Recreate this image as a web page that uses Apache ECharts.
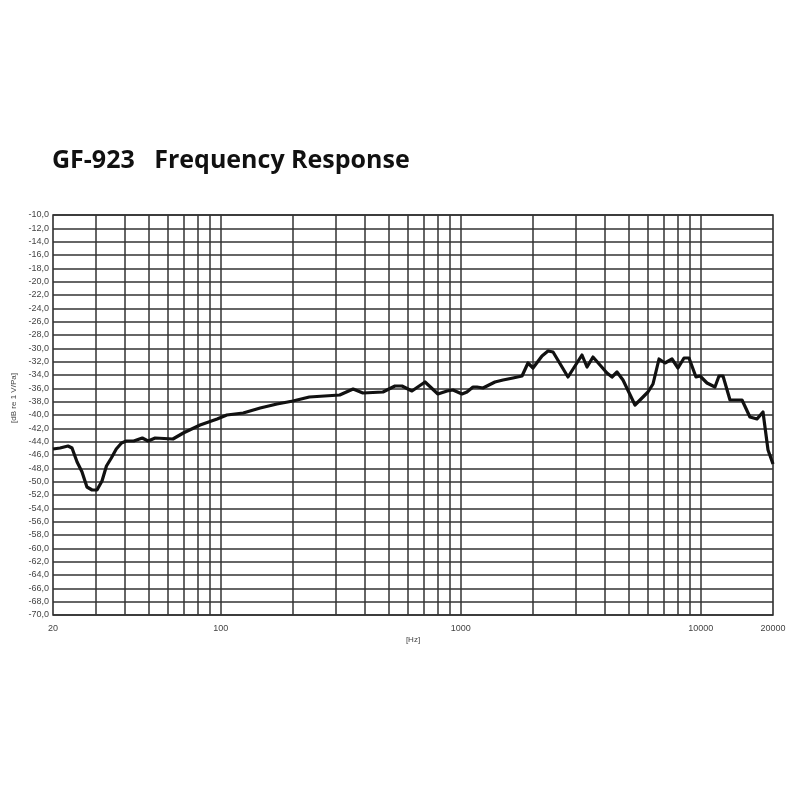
<!DOCTYPE html>
<html>
<head>
<meta charset="utf-8">
<script src="https://cdn.jsdelivr.net/npm/echarts@6/dist/echarts.min.js"></script>
<style>html,body{margin:0;padding:0;background:#fff;}#c{width:800px;height:800px;}</style>
</head>
<body>
<div id="c"></div>
<script>
var titleText = 'GF-923   Frequency Response';
var freqs = [20,21.4,23.1,24.0,25.2,26.4,27.7,29.1,30.5,32.0,33.4,35.0,36.7,38.6,40.4,43.4,47.1,49.8,53.3,63.2,69.8,82.0,96.6,106,124,146,171.5,200,234,313,356,391,474,532,569,626,710,803,877,928,1012,1061,1125,1168,1238,1388,1500,1650,1800,1906,2000,2180,2310,2424,2798,3200,3358,3556,4067,4268,4477,4742,5321,5692,6026,6325,6700,7096,7590,8038,8516,8934,9552,9932,10618,11460,11914,12380,13240,14856,16030,17154,18170,19068,20000];
var levels = [-45.1,-44.95,-44.65,-44.95,-47.05,-48.5,-50.8,-51.25,-51.25,-49.9,-47.65,-46.45,-45.1,-44.2,-43.9,-43.9,-43.45,-43.9,-43.45,-43.6,-42.7,-41.5,-40.6,-40.0,-39.7,-38.95,-38.35,-37.9,-37.3,-37.0,-36.1,-36.7,-36.55,-35.65,-35.65,-36.4,-35.05,-36.85,-36.4,-36.25,-36.85,-36.55,-35.8,-35.8,-35.95,-35.05,-34.75,-34.45,-34.15,-32.2,-32.95,-31.15,-30.4,-30.55,-34.3,-31.0,-32.8,-31.3,-33.7,-34.3,-33.55,-34.75,-38.5,-37.45,-36.55,-35.35,-31.6,-32.2,-31.6,-32.95,-31.45,-31.45,-34.3,-34.15,-35.2,-35.8,-34.15,-34.15,-37.75,-37.75,-40.3,-40.6,-39.55,-45.25,-47.35];
var xTickLabels = [20,100,1000,10000,20000];
var xGridFreqs = [30,40,50,60,70,80,90,100,200,300,400,500,600,700,800,900,1000,2000,3000,4000,5000,6000,7000,8000,9000,10000];
var yMin = -70, yMax = -10, yStep = 2;
var xName = '[Hz]', yName = '[dB re 1 V/Pa]';

var chart = echarts.init(document.getElementById('c'), null, {renderer:'canvas'});
var data = freqs.map(function(f,i){return [f, levels[i]];});
chart.setOption({
  animation:false,
  backgroundColor:'#fff',
  title:{text:titleText,left:47,top:143,textStyle:{fontFamily:'Open Sans',fontWeight:'bold',fontSize:25,color:'#111'}},
  grid:{left:53,right:27,top:215,bottom:185,show:true,borderColor:'#222',borderWidth:1.5},
  xAxis:{type:'log',logBase:10,min:20,max:20000,name:xName,nameLocation:'middle',nameGap:21,
    nameTextStyle:{fontFamily:'Liberation Sans',fontSize:8,color:'#444'},
    axisLine:{show:false},axisTick:{show:false},splitLine:{show:false},
    axisLabel:{customValues:xTickLabels,fontFamily:'Liberation Sans',fontSize:9,color:'#444',margin:9,
      formatter:function(v){return String(Math.round(v));}}},
  yAxis:{type:'value',min:yMin,max:yMax,interval:yStep,name:yName,nameLocation:'middle',nameGap:33,nameRotate:90,
    nameTextStyle:{fontFamily:'Liberation Sans',fontSize:8,color:'#444',padding:[0,0,0,34]},
    axisLine:{show:false},axisTick:{show:false},
    splitLine:{show:true,lineStyle:{color:'#333',width:1.5}},
    axisLabel:{fontFamily:'Liberation Sans',fontSize:9,color:'#444',margin:4,
      formatter:function(v){return v.toFixed(1).replace('.',',');}}},
  series:[{type:'line',data:data,showSymbol:false,symbol:'none',
    lineStyle:{color:'#111',width:3.2,join:'round'},z:5,
    markLine:{silent:true,symbol:['none','none'],label:{show:false},animation:false,
      lineStyle:{color:'#333',width:1.5,type:'solid'},
      data:xGridFreqs.map(function(f){return {xAxis:f};})}}]
});
</script>
</body>
</html>
